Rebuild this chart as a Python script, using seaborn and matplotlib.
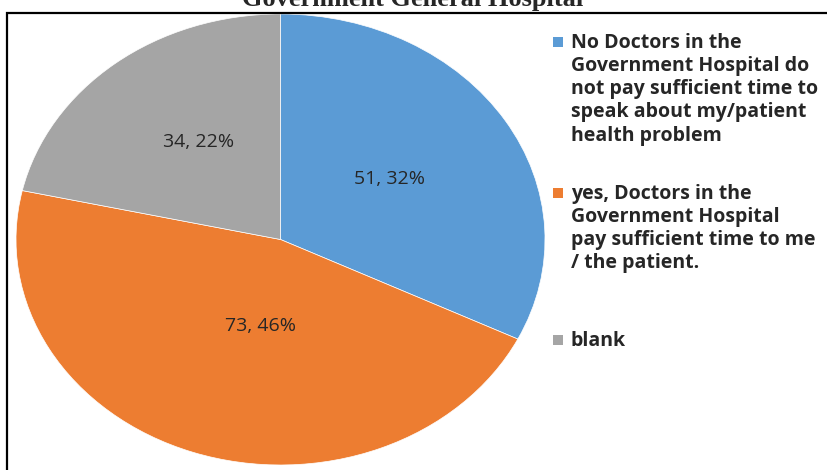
import matplotlib
matplotlib.use("Agg")
import numpy as np
import matplotlib.pyplot as plt
from matplotlib.patches import Rectangle
import seaborn as sns

# Survey responses
categories = [
    "No Doctors in the\nGovernment Hospital do\nnot pay sufficient time to\nspeak about my/patient\nhealth problem",
    "yes, Doctors in the\nGovernment Hospital\npay sufficient time to me\n/ the patient.",
    "blank",
]
counts = [51, 73, 34]
title = "Government General Hospital"

sns.set_theme(style="white")
colors = ["#5B9BD5", "#ED7D31", "#A5A5A5"]
plt.rcParams["font.family"] = ["Open Sans", "DejaVu Sans"]

W, H = 828, 470
fig = plt.figure(figsize=(W / 100, H / 100), dpi=100)
fig.patch.set_facecolor("white")

# chart frame (top and left edges visible)
fig.patches.append(Rectangle((7.5 / W, -0.1), 1.2, 1 - 12.5 / H + 0.1,
                             transform=fig.transFigure, fill=False,
                             edgecolor="black", linewidth=1.6, zorder=0))

# title, partly above the figure
fig.text(413 / W, 1 - 6 / H, title, ha="center", va="baseline",
         fontsize=19, fontweight="bold", family=["Liberation Serif", "DejaVu Serif"])

# stretched (elliptical) pie
cx, cy, rx, ry = 280.5, 239.5, 264.5, 225.5
ax = fig.add_axes([(cx - rx) / W, (H - cy - ry) / H, 2 * rx / W, 2 * ry / H])
wedges, _ = ax.pie(counts, colors=colors, startangle=90, counterclock=False,
                   radius=1, wedgeprops=dict(edgecolor="white", linewidth=0.5))
ax.set_aspect("auto")
ax.set_xlim(-1, 1)
ax.set_ylim(-1, 1)
ax.axis("off")

# data labels inside each slice
total = sum(counts)
label_r = [0.49, 0.39, 0.53]
label_turn = [1, 8, -3]
for w, c, r, t in zip(wedges, counts, label_r, label_turn):
    mid = np.deg2rad((w.theta1 + w.theta2) / 2 + t)
    ax.text(r * np.cos(mid), r * np.sin(mid), f"{c}, {round(100 * c / total)}%",
            ha="center", va="center", fontsize=14, color="#262626")

# legend entries
entry_tops = [37, 188, 335]
for lab, col, top in zip(categories, colors, entry_tops):
    fig.patches.append(Rectangle((553 / W, 1 - (top + 10) / H), 10 / W, 10 / H,
                                 transform=fig.transFigure, facecolor=col,
                                 edgecolor="none"))
    fig.text(571 / W, 1 - (top - 4) / H, lab, ha="left", va="top",
             fontsize=14, fontweight="bold", color="#262626", linespacing=1.21)

fig.savefig("out.png", dpi=100, facecolor="white")
